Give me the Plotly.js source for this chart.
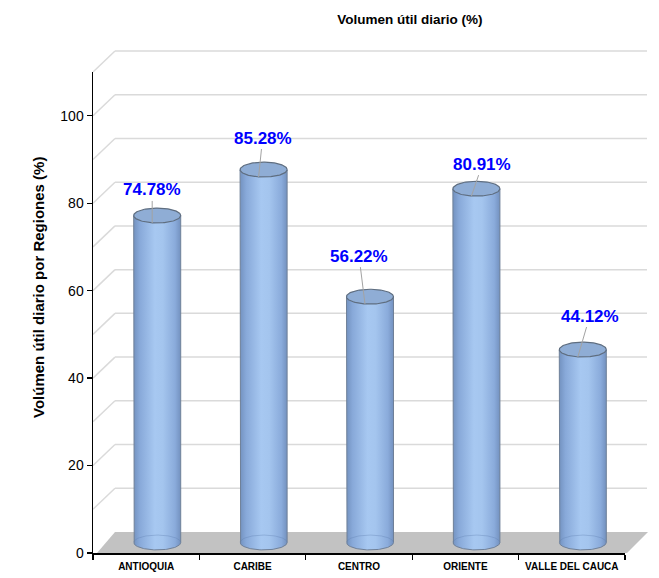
<!DOCTYPE html>
<html><head><meta charset="utf-8">
<script src="https://cdn.plot.ly/plotly-3.0.1.min.js"></script>
<style>html,body{margin:0;padding:0;background:#fff}</style>
</head><body><div id="chart" style="width:659px;height:578px"></div>
<script>
// ---- data ----
const categories = ["ANTIOQUIA", "CARIBE", "CENTRO", "ORIENTE", "VALLE DEL CAUCA"];
const values = [74.78, 85.28, 56.22, 80.91, 44.12];
const yTickValues = [0, 20, 40, 60, 80, 100];
const chartTitle = "Volumen útil diario (%)";
const yAxisTitle = "Volúmen útil diario por Regiones (%)";

// ---- style / geometry (not data) ----
const labelOffsets = [[0, -33], [4, -39], [-6, -48], [11, -32], [12, -41]];
const FONT = "'Liberation Sans Narrow', 'Arial Narrow', 'Liberation Sans', Arial, sans-serif";
const W = 659, H = 578;
const L = 93, R = 654, T = 40, B = 568;
const PW = R - L, PH = B - T;
const frontLeft = 93, frontRight = 625, frontBottom = 553, frontTop = 72;
const depthX = 22, depthY = 21;
const yMax = 110, yLow = -4;
const kY = (frontBottom - frontTop) / yMax;
const fx = p => (p - L) / PW;
const fy = p => (B - p) / PH;
const yPx = v => frontBottom - v * kY;

const barBottomPx = frontBottom - depthY / 2 - yLow * kY;
const barTopPx = frontBottom - depthY / 2 - yMax * kY;

const traces = [];
// invisible trace to establish the front categorical axes
traces.push({type: 'scatter', x: categories, y: values, mode: 'none', hoverinfo: 'skip', showlegend: false});

const w = 0.221, ry = 1.7, N = 60;
const bodyScale = [[0, '#7392c0'], [0.13, '#88a9d9'], [0.45, '#a7c8f1'], [0.62, '#a4c5ee'], [0.88, '#8aabdb'], [1, '#7391bf']];
values.forEach((v, i) => {
  const bx = [], by = [];
  bx.push(i - w); by.push(v);
  bx.push(i - w); by.push(0);
  for (let k = 0; k <= N; k++) {
    const t = Math.PI + Math.PI * k / N;
    bx.push(i + w * Math.cos(t)); by.push(ry * Math.sin(t));
  }
  bx.push(i + w); by.push(v);
  bx.push(i - w); by.push(v);
  traces.push({type: 'scatter', x: bx, y: by, xaxis: 'x2', yaxis: 'y2', mode: 'lines',
    fill: 'toself', fillcolor: '#99bce8',
    fillgradient: {type: 'horizontal', colorscale: bodyScale},
    line: {color: '#6f8098', width: 1}, hoverinfo: 'skip', showlegend: false});
  // faint back arc of the base
  const ax = [], ay = [];
  for (let k = 0; k <= N; k++) {
    const t = Math.PI * k / N;
    ax.push(i + w * Math.cos(t)); ay.push(ry * Math.sin(t));
  }
  traces.push({type: 'scatter', x: ax, y: ay, xaxis: 'x2', yaxis: 'y2', mode: 'lines',
    line: {color: 'rgba(95,125,175,0.35)', width: 1}, hoverinfo: 'skip', showlegend: false});
  // top ellipse
  const ex = [], ey = [];
  for (let k = 0; k <= 2 * N; k++) {
    const t = 2 * Math.PI * k / (2 * N);
    ex.push(i + w * Math.cos(t)); ey.push(v + ry * Math.sin(t));
  }
  traces.push({type: 'scatter', x: ex, y: ey, xaxis: 'x2', yaxis: 'y2', mode: 'lines',
    fill: 'toself', fillcolor: '#8fadd5',
    line: {color: '#5f6e80', width: 1.2}, hoverinfo: 'skip', showlegend: false});
});

// ---- decorations: floor, back wall gridlines, side-wall diagonals ----
const shapes = [];
const gridColor = '#dadada';
for (let g = 10; g <= 110; g += 10) {
  const yf = yPx(g), yb = yf - depthY;
  shapes.push({type: 'line', xref: 'paper', yref: 'paper', layer: 'below',
    x0: fx(frontLeft + depthX), x1: fx(frontRight + depthX), y0: fy(yb), y1: fy(yb),
    line: {color: gridColor, width: 1.5}});
  shapes.push({type: 'line', xref: 'paper', yref: 'paper', layer: 'below',
    x0: fx(frontLeft), x1: fx(frontLeft + depthX), y0: fy(yf), y1: fy(yb),
    line: {color: gridColor, width: 1.5}});
}
shapes.push({type: 'path', xref: 'paper', yref: 'paper', layer: 'below',
  path: `M ${fx(frontLeft + 4)},${fy(frontBottom)} L ${fx(frontRight + 2)},${fy(frontBottom)} L ${fx(frontRight + depthX + 1)},${fy(frontBottom - depthY)} L ${fx(frontLeft + depthX)},${fy(frontBottom - depthY)} Z`,
  fillcolor: '#c2c2c2', line: {width: 0}});

// ---- labels ----
const annotations = values.map((v, i) => ({
  xref: 'x2', yref: 'y2', x: i - 0.047, y: v - 1.7,
  ax: labelOffsets[i][0], ay: labelOffsets[i][1],
  text: '<b>' + v.toFixed(2) + '%</b>',
  showarrow: true, arrowhead: 0, arrowwidth: 1, arrowcolor: '#a3a3a3', standoff: 0,
  font: {family: FONT, size: 17, color: '#0000ff'}
}));
annotations.push({
  xref: 'paper', yref: 'paper', x: fx(38), y: fy(288), xanchor: 'center', yanchor: 'middle',
  textangle: -90, showarrow: false, text: '<b>' + yAxisTitle + '</b>',
  font: {family: FONT, size: 15, color: '#000'}
});

const layout = {
  width: W, height: H,
  margin: {l: L, r: W - R, t: T, b: H - B},
  paper_bgcolor: '#ffffff', plot_bgcolor: 'rgba(0,0,0,0)',
  showlegend: false,
  title: {text: '<b>' + chartTitle + '</b>', x: 410 / W, xref: 'container', xanchor: 'center',
    y: 1 - 19 / H, yref: 'container', yanchor: 'middle',
    font: {family: FONT, size: 13.5, color: '#000'}},
  xaxis: {domain: [fx(frontLeft), fx(frontRight)], anchor: 'y', type: 'category',
    categoryorder: 'array', categoryarray: categories, range: [-0.5, 4.5],
    tickson: 'boundaries', ticks: 'outside', ticklen: 5, tickcolor: '#000', tickwidth: 1.2,
    tickangle: 0, automargin: false, ticklabelstandoff: 3,
    showline: true, linecolor: '#000', linewidth: 1.5, showgrid: false, zeroline: false,
    tickfont: {family: FONT, size: 10, color: '#000', weight: 'bold'}, fixedrange: true},
  yaxis: {domain: [fy(frontBottom), fy(frontTop)], anchor: 'x', range: [0, yMax],
    tickmode: 'array', tickvals: yTickValues, ticks: 'outside', ticklen: 5, tickcolor: '#000', tickwidth: 1.2,
    showline: true, linecolor: '#000', linewidth: 1.5, showgrid: false, zeroline: false,
    automargin: false,
    tickfont: {family: FONT, size: 14, color: '#000'}, fixedrange: true},
  xaxis2: {domain: [fx(frontLeft + depthX / 2), fx(frontRight + depthX / 2)], anchor: 'y2',
    type: 'linear', range: [-0.5, 4.5], visible: false, fixedrange: true},
  yaxis2: {domain: [fy(barBottomPx), fy(barTopPx)], anchor: 'x2',
    type: 'linear', range: [yLow, yMax], visible: false, fixedrange: true},
  shapes: shapes,
  annotations: annotations
};

Plotly.newPlot('chart', traces, layout, {displayModeBar: false, staticPlot: true});
</script>
</body></html>
